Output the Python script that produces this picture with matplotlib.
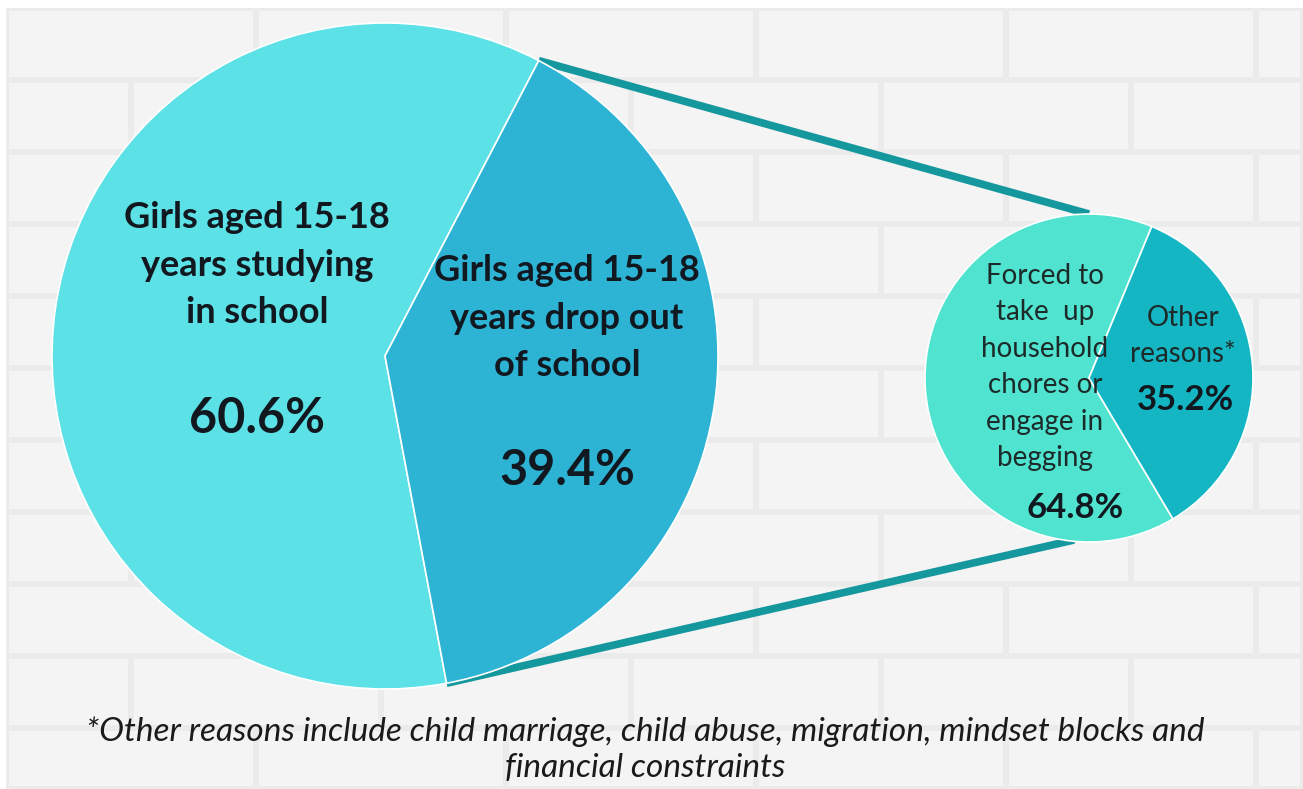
import matplotlib.pyplot as plt
from matplotlib.patches import Rectangle
import numpy as np

# Data
main_labels = ['Girls aged 15-18\nyears studying\nin school', 'Girls aged 15-18\nyears drop out\nof school']
main_values = [60.6, 39.4]
main_colors = ['#5ce1e6', '#2db3d4']

sub_labels = ['Forced to\ntake  up\nhousehold\nchores or\nengage in\nbegging', 'Other\nreasons*']
sub_values = [64.8, 35.2]
sub_colors = ['#4fe3d0', '#14b6c3']

footnote = ('*Other reasons include child marriage, child abuse, migration, mindset blocks and\n'
            'financial constraints')

W, H = 1303, 789
plt.rcParams['font.family'] = ['Lato', 'DejaVu Sans']

fig = plt.figure(figsize=(W / 100, H / 100), dpi=100, facecolor='white')
ax = fig.add_axes([0, 0, 1, 1])


def Y(y):
    # picture rows count from the top
    return H - y


# light brick wall background
ax.add_patch(Rectangle((6, 0), W - 6, H - 8, facecolor='#ebebeb', edgecolor='none', zorder=0))
brick_w, brick_h = 250, 72
for r, top in enumerate(range(8, H, brick_h)):
    off = 0 if r % 2 == 0 else -brick_w / 2
    for left in np.arange(6 + off, W, brick_w):
        x0 = max(left, 6)
        x1 = min(left + brick_w, W)
        y1 = min(top + brick_h, H)
        ax.add_patch(Rectangle((x0 + 3, Y(y1) + 3), x1 - x0 - 6, y1 - top - 6,
                               facecolor='#f4f4f4', edgecolor='none', zorder=0))

# main pie
big_c, big_r, big_start = (385, Y(356)), 333, 62.5
ax.pie(main_values, colors=main_colors, startangle=big_start, center=big_c, radius=big_r,
       wedgeprops=dict(edgecolor='white', linewidth=1.2, zorder=3), frame=True)

# breakdown pie
small_c, small_r, small_start = (1089, Y(378)), 164, 67.5
ax.pie(sub_values, colors=sub_colors, startangle=small_start, center=small_c, radius=small_r,
       wedgeprops=dict(edgecolor='white', linewidth=1.2, zorder=3), frame=True)

# connectors from the drop-out wedge edges to the small pie
a1 = np.radians(big_start)
a2 = np.radians(big_start + 360 * main_values[0] / 100)
p_top = (big_c[0] + big_r * np.cos(a1), big_c[1] + big_r * np.sin(a1))
p_bot = (big_c[0] + big_r * np.cos(a2), big_c[1] + big_r * np.sin(a2))
ax.plot([p_top[0], small_c[0]], [p_top[1], small_c[1] + small_r], color='#15979e', lw=5.5,
        solid_capstyle='butt', zorder=2)
ax.plot([p_bot[0], small_c[0] - 15], [p_bot[1], small_c[1] - small_r + 2], color='#15979e', lw=5.5,
        solid_capstyle='butt', zorder=2)

ax.set_xlim(0, W)
ax.set_ylim(0, H)
ax.axis('off')

txt = '#111820'
ax.text(257, Y(265), main_labels[0], ha='center', va='center', fontsize=26, fontweight='bold',
        color=txt, linespacing=1.52, zorder=5)
ax.text(257, Y(418), f'{main_values[0]}%', ha='center', va='center', fontsize=35, fontweight='bold',
        color=txt, zorder=5)
ax.text(567, Y(318), main_labels[1], ha='center', va='center', fontsize=26, fontweight='bold',
        color=txt, linespacing=1.52, zorder=5)
ax.text(567, Y(470), f'{main_values[1]}%', ha='center', va='center', fontsize=35, fontweight='bold',
        color=txt, zorder=5)

ax.text(1045, Y(367), sub_labels[0], ha='center', va='center', fontsize=20,
        color='#1d2a2a', linespacing=1.5, zorder=5)
ax.text(1075, Y(508), f'{sub_values[0]}%', ha='center', va='center', fontsize=25, fontweight='bold',
        color=txt, zorder=5)
ax.text(1183, Y(336), sub_labels[1], ha='center', va='center', fontsize=20,
        color='#1d2a2a', linespacing=1.5, zorder=5)
ax.text(1185, Y(400), f'{sub_values[1]}%', ha='center', va='center', fontsize=25, fontweight='bold',
        color=txt, zorder=5)

ax.text(645, Y(750), footnote, ha='center', va='center', fontsize=24, fontstyle='italic',
        color='#1a1a1a', linespacing=1.25, zorder=5)

fig.savefig('out.png', dpi=100, facecolor='white')
